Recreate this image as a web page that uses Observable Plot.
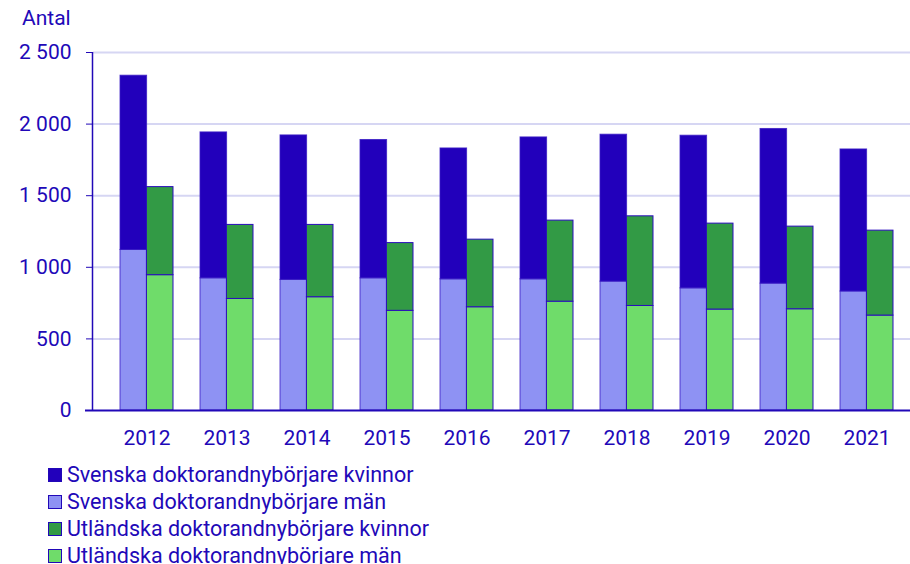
<!DOCTYPE html>
<html>
<head>
<meta charset="utf-8">
<script src="https://cdn.jsdelivr.net/npm/d3@7"></script>
<script src="https://cdn.jsdelivr.net/npm/@observablehq/plot@0.6"></script>
<style>
  html, body { margin: 0; padding: 0; background: #fff; }
  #wrap { position: relative; width: 910px; height: 564px; font-family: Roboto, sans-serif; color: #2108b8; overflow: hidden; }
  #antal { position: absolute; left: 22px; top: 6px; font-size: 21px; }
  #legend { position: absolute; left: 48px; top: 461px; font-size: 21.5px; }
  .row { height: 27px; display: flex; align-items: center; white-space: nowrap; }
  .sw { width: 12px; height: 12px; border: 1px solid #2108b8; margin-right: 5px; flex: none; }
</style>
</head>
<body>
<div id="wrap">
  <div id="antal">Antal</div>
  <div id="chart"></div>
  <div id="legend"></div>
</div>
<script>
const years = ["2012","2013","2014","2015","2016","2017","2018","2019","2020","2021"];
const seriesNames = [
  "Svenska doktorandnybörjare kvinnor",
  "Svenska doktorandnybörjare män",
  "Utländska doktorandnybörjare kvinnor",
  "Utländska doktorandnybörjare män"
];
const seriesColors = ["#2200bb", "#8e92f3", "#329a45", "#6fdc6a"];
const svKvinnor  = [1217, 1019, 1009, 966, 914, 991, 1026, 1066, 1080, 992];
const svMan      = [1121,  923,  912, 923, 916, 916,  900,  853,  886, 831];
const utlKvinnor = [ 615,  517,  505, 473, 472, 566,  626,  600,  577, 593];
const utlMan     = [ 945,  779,  791, 696, 721, 760,  730,  705,  707, 663];
const yTicks = [0, 500, 1000, 1500, 2000, 2500];

const sv = [];
const utl = [];
years.forEach((y, i) => {
  sv.push({year: y, series: seriesNames[1], value: svMan[i]});
  sv.push({year: y, series: seriesNames[0], value: svKvinnor[i]});
  utl.push({year: y, series: seriesNames[3], value: utlMan[i]});
  utl.push({year: y, series: seriesNames[2], value: utlKvinnor[i]});
});

const textColor = "#2108b8";
const fmt = d => d3.format(",")(d).replace(/,/g, "\u00a0");
const half = 80 * 0.66 / 2;

function yAxisLine(index, scales, values, dimensions) {
  const x = dimensions.marginLeft - 0.5;
  return d3.create("svg:line")
    .attr("x1", x).attr("x2", x)
    .attr("y1", scales.y(2500)).attr("y2", scales.y(0))
    .attr("stroke", textColor).attr("stroke-width", 1.5)
    .node();
}

const chart = Plot.plot({
  width: 910,
  height: 460,
  marginTop: 52,
  marginBottom: 50,
  marginLeft: 93,
  marginRight: 0,
  style: {fontFamily: "Roboto, sans-serif", color: textColor, background: "transparent"},
  x: {type: "band", domain: years, range: [106, 906], paddingInner: 0.34, paddingOuter: 0.17},
  y: {domain: [0, 2500]},
  color: {domain: seriesNames, range: seriesColors},
  marks: [
    Plot.ruleY(yTicks.filter(d => d > 0), {stroke: "#d6d6f3", strokeWidth: 2}),
    Plot.barY(sv, {x: "year", y: "value", fill: "series", order: [seriesNames[1], seriesNames[0]], insetRight: half, stroke: "#3a1cc4", strokeWidth: 1, strokeOpacity: 0.8}),
    Plot.barY(utl, {x: "year", y: "value", fill: "series", order: [seriesNames[3], seriesNames[2]], insetLeft: half, stroke: "#2a0cbd", strokeWidth: 1}),
    yAxisLine,
    Plot.ruleY([0], {stroke: textColor, strokeWidth: 2, insetLeft: -8}),
    Plot.axisY({ticks: yTicks, tickFormat: fmt, tickSize: 7, tickPadding: 15, fontSize: 21, stroke: textColor, strokeOpacity: 1, fill: textColor, label: null}),
    Plot.axisX({tickSize: 0, tickPadding: 20, fontSize: 21, fill: textColor, label: null})
  ]
});
document.getElementById("chart").appendChild(chart);

const legend = document.getElementById("legend");
seriesNames.forEach((name, i) => {
  const row = document.createElement("div");
  row.className = "row";
  const sw = document.createElement("span");
  sw.className = "sw";
  sw.style.background = seriesColors[i];
  const t = document.createElement("span");
  t.textContent = name;
  row.appendChild(sw);
  row.appendChild(t);
  legend.appendChild(row);
});
</script>
</body>
</html>
